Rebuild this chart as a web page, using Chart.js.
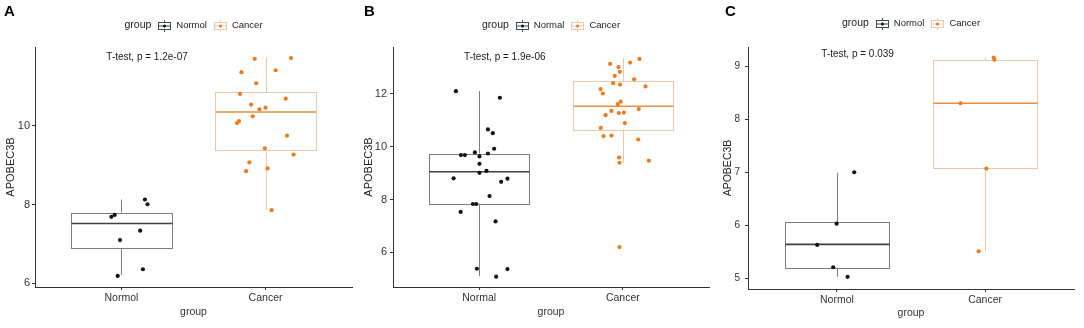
<!DOCTYPE html>
<html>
<head>
<meta charset="utf-8">
<script src="https://cdn.jsdelivr.net/npm/chart.js@4"></script>
<style>
  html, body { margin: 0; padding: 0; background: #fff; }
  #wrap { position: relative; width: 1084px; height: 328px; }
  .panel { position: absolute; top: 0; height: 328px; }
  canvas { display: block; }
</style>
</head>
<body>
<div id="wrap">
  <div class="panel" style="left:0;width:361px"><canvas id="chartA" width="361" height="328"></canvas></div>
  <div class="panel" style="left:361px;width:361px"><canvas id="chartB" width="361" height="328"></canvas></div>
  <div class="panel" style="left:722px;width:362px"><canvas id="chartC" width="362" height="328"></canvas></div>
</div>
<script>
// ---- data ----
const groupsA = ['Normol', 'Cancer'];
const groupsB = ['Normal', 'Cancer'];
const groupsC = ['Normol', 'Cancer'];

// panel A
const normalA = [8.13, 8.01, 7.74, 7.69, 7.34, 7.10, 6.36, 6.19];
const normalJitA = [0.163, 0.181, -0.047, -0.07, 0.13, -0.01, 0.149, -0.026];
const cancerA = [11.70, 11.72, 11.36, 11.41, 11.08, 10.81, 10.69, 10.54, 10.42, 10.46, 10.24, 10.12, 10.07, 9.75, 9.43, 9.27, 9.07, 8.85, 8.92, 7.86];
const cancerJitA = [-0.075, 0.177, -0.167, 0.07, -0.065, -0.177, 0.14, -0.10, -0.042, 0, -0.089, -0.184, -0.198, 0.149, -0.005, 0.195, -0.112, -0.135, 0.014, 0.042];
// [lower whisker, q1, median, q3, upper whisker]
const boxNormalA = [6.21, 6.90, 7.52, 7.80, 8.13];
const boxCancerA = [7.87, 9.38, 10.35, 10.87, 11.73];
const ticksA = [6, 8, 10];
const pLabelA = 'T-test, p = 1.2e-07';

// panel B
const normalB = [12.10, 11.85, 10.65, 10.51, 9.92, 9.78, 9.74, 9.68, 9.68, 9.63, 9.35, 9.08, 9.01, 8.80, 8.79, 8.67, 8.13, 7.83, 7.83, 7.53, 7.17, 5.38, 5.37, 5.08];
const normalJitB = [-0.162, 0.144, 0.061, 0.095, 0.104, -0.03, 0.061, -0.127, -0.099, 0.002, 0.002, 0.051, 0.002, -0.178, 0.197, 0.153, 0.072, -0.044, -0.021, -0.129, 0.114, -0.016, 0.197, 0.118];
const cancerB = [13.32, 13.18, 13.13, 13.01, 12.83, 12.68, 12.55, 12.40, 12.35, 12.28, 12.18, 12.01, 11.70, 11.61, 11.42, 11.35, 11.29, 11.27, 11.19, 10.89, 10.71, 10.40, 10.42, 10.27, 9.59, 9.39, 9.47, 6.20];
const cancerJitB = [0.116, 0.051, -0.088, -0.03, -0.021, -0.056, 0.079, -0.067, -0.019, 0.158, -0.155, -0.139, -0.014, -0.035, 0.111, -0.079, 0.007, -0.028, -0.12, 0.014, -0.153, -0.134, -0.079, 0.107, -0.026, -0.023, 0.181, -0.023];
const boxNormalB = [5.10, 7.84, 9.05, 9.74, 12.10];
const boxCancerB = [9.39, 10.64, 11.53, 12.48, 13.35];
const ticksB = [6, 8, 10, 12];
const pLabelB = 'T-test, p = 1.9e-06';

// panel C
const normalC = [7.00, 6.03, 5.63, 5.21, 5.03];
const normalJitC = [0.117, -0.002, -0.133, -0.025, 0.072];
const cancerC = [9.16, 9.12, 8.30, 7.07, 5.51];
const cancerJitC = [0.058, 0.063, -0.166, 0.009, -0.043];
const boxNormalC = [5.03, 5.20, 5.64, 6.06, 6.99];
const boxCancerC = [5.51, 7.08, 8.30, 9.11, 9.16];
const ticksC = [5, 6, 7, 8, 9];
const pLabelC = 'T-test, p = 0.039';

// ---- styling ----
const FONT = '"Liberation Sans", Arial, sans-serif';
const dark = { point: '#141414', edge: '#7d7d7d', median: '#3f3f3f' };
const orange = { point: '#ee7a1c', edge: '#eac8aa', median: '#e98f45' };
const boxHalf = 0.35;

Chart.defaults.font.family = FONT;

function crisp(v) { return Math.round(v) + 0.5; }

const boxPlugin = {
  id: 'boxes',
  beforeDatasetsDraw(chart, args, opts) {
    const { ctx, scales: { x, y } } = chart;
    opts.stats.forEach((s, i) => {
      const c = i + 1;
      const pal = opts.palettes[i];
      const l = crisp(x.getPixelForValue(c - boxHalf));
      const r = crisp(x.getPixelForValue(c + boxHalf));
      const m = crisp(x.getPixelForValue(c));
      const [lo, q1, med, q3, hi] = s.map(v => y.getPixelForValue(v));
      ctx.save();
      ctx.strokeStyle = pal.edge;
      ctx.lineWidth = 1;
      ctx.beginPath();
      ctx.moveTo(m, hi); ctx.lineTo(m, q3);
      ctx.moveTo(m, q1); ctx.lineTo(m, lo);
      ctx.stroke();
      ctx.strokeRect(l, crisp(q3), r - l, crisp(q1) - crisp(q3));
      ctx.strokeStyle = pal.median;
      ctx.lineWidth = 1.6;
      ctx.beginPath();
      ctx.moveTo(l, med); ctx.lineTo(r, med);
      ctx.stroke();
      ctx.restore();
    });
  },
  afterDraw(chart, args, opts) {
    const { ctx, chartArea } = chart;
    ctx.save();
    // panel letter
    ctx.fillStyle = '#000';
    ctx.font = 'bold 15px ' + FONT;
    ctx.textBaseline = 'top';
    ctx.textAlign = 'left';
    ctx.fillText(opts.letter, opts.letterX, 4);

    // test annotation
    ctx.fillStyle = '#1a1a1a';
    ctx.font = '10px ' + FONT;
    ctx.textBaseline = 'middle';
    ctx.fillText(opts.pLabel, chart.scales.x.getPixelForValue(0.895), chartArea.top + opts.pOffset);

    // legend
    const titleFont = '10.5px ' + FONT, itemFont = '9.5px ' + FONT;
    ctx.font = titleFont;
    const wTitle = ctx.measureText('group').width;
    ctx.font = itemFont;
    const wItems = opts.groups.map(g => ctx.measureText(g).width);
    const icon = 12.5, g1 = 7, g2 = 5.5, g3 = 7;
    const total = wTitle + g1 + icon + g2 + wItems[0] + g3 + icon + g2 + wItems[1];
    let xp = (chartArea.left + chartArea.right) / 2 - total / 2;
    const yc = opts.legendY;
    ctx.fillStyle = '#222';
    ctx.font = titleFont;
    ctx.fillText('group', xp, yc);
    xp += wTitle + g1;
    opts.groups.forEach((g, i) => {
      const pal = opts.palettes[i];
      const bx = Math.round(xp) + 0.5, by = Math.round(yc - 3.5) + 0.5;
      ctx.strokeStyle = i === 0 ? '#3d4a50' : pal.edge;
      ctx.lineWidth = 1;
      ctx.strokeRect(bx, by, 12, 7);
      ctx.beginPath();
      ctx.moveTo(bx + 6, by - 2.5); ctx.lineTo(bx + 6, by);
      ctx.moveTo(bx + 6, by + 7); ctx.lineTo(bx + 6, by + 9.5);
      ctx.moveTo(bx, by + 3.5); ctx.lineTo(bx + 12, by + 3.5);
      ctx.stroke();
      ctx.fillStyle = pal.point;
      ctx.beginPath();
      ctx.arc(bx + 6, by + 3.5, 1.6, 0, Math.PI * 2);
      ctx.fill();
      xp += icon + g2;
      ctx.fillStyle = '#222';
      ctx.font = itemFont;
      ctx.fillText(g, xp, yc);
      xp += wItems[i] + g3;
    });
    ctx.restore();
  }
};

function points(values, jitter, c) {
  return values.map((v, i) => ({ x: c + jitter[i], y: v }));
}

function makePanel(id, p) {
  new Chart(document.getElementById(id), {
    type: 'scatter',
    data: {
      datasets: [
        { label: p.groups[0], data: points(p.normal, p.normalJit, 1), backgroundColor: dark.point, borderWidth: 0, pointRadius: 2.1 },
        { label: p.groups[1], data: points(p.cancer, p.cancerJit, 2), backgroundColor: orange.point, borderWidth: 0, pointRadius: 2.1 }
      ]
    },
    options: {
      responsive: false,
      animation: false,
      devicePixelRatio: 1,
      layout: { padding: { top: p.top, right: p.right, left: 0, bottom: 0 } },
      plugins: {
        legend: { display: false },
        tooltip: { enabled: false },
        boxes: {
          stats: [p.boxNormal, p.boxCancer],
          palettes: [dark, orange],
          groups: p.groups,
          letter: p.letter, letterX: p.letterX,
          pLabel: p.pLabel, pOffset: p.pOffset,
          legendY: p.legendY
        }
      },
      scales: {
        x: {
          type: 'linear', min: 0.4, max: 2.6,
          afterBuildTicks: s => { s.ticks = [{ value: 1 }, { value: 2 }]; },
          afterFit: s => { s.height = p.xHeight; },
          ticks: { callback: (v, i) => p.groups[i], color: '#333', font: { size: 10.5 }, padding: 2, maxRotation: 0 },
          grid: { drawOnChartArea: false, tickLength: 3, color: '#333' },
          border: { color: '#333', width: 1 },
          title: { display: true, text: 'group', color: '#333', font: { size: 10.5 }, padding: { top: 2, bottom: p.xTitlePad } }
        },
        y: {
          type: 'linear', min: p.yMin, max: p.yMax,
          afterBuildTicks: s => { s.ticks = p.ticks.map(v => ({ value: v })); },
          afterFit: s => { s.width = p.left; },
          ticks: { color: '#333', font: { size: p.yTickSize }, padding: p.yTickPad },
          grid: { drawOnChartArea: false, tickLength: 3, color: '#333' },
          border: { color: '#333', width: 1 },
          title: { display: true, text: 'APOBEC3B', color: '#222', font: { size: p.yTitleSize }, padding: { top: p.yTitlePad, bottom: 0 } }
        }
      }
    },
    plugins: [boxPlugin]
  });
}

makePanel('chartA', {
  groups: groupsA, normal: normalA, normalJit: normalJitA, cancer: cancerA, cancerJit: cancerJitA,
  boxNormal: boxNormalA, boxCancer: boxCancerA, ticks: ticksA, yMin: 5.91, yMax: 12.0,
  pLabel: pLabelA, letter: 'A', letterX: 4,
  top: 47, right: 9, left: 35, xHeight: 41, yTitlePad: 4, yTitleSize: 11, yTickSize: 11, yTickPad: 2,
  xTitlePad: 10, pOffset: 10, legendY: 25
});
makePanel('chartB', {
  groups: groupsB, normal: normalB, normalJit: normalJitB, cancer: cancerB, cancerJit: cancerJitB,
  boxNormal: boxNormalB, boxCancer: boxCancerB, ticks: ticksB, yMin: 4.69, yMax: 13.77,
  pLabel: pLabelB, letter: 'B', letterX: 3,
  top: 47, right: 13, left: 32, xHeight: 41, yTitlePad: 1.5, yTitleSize: 11, yTickSize: 11, yTickPad: 3,
  xTitlePad: 10, pOffset: 10, legendY: 25
});
makePanel('chartC', {
  groups: groupsC, normal: normalC, normalJit: normalJitC, cancer: cancerC, cancerJit: cancerJitC,
  boxNormal: boxNormalC, boxCancer: boxCancerC, ticks: ticksC, yMin: 4.80, yMax: 9.36,
  pLabel: pLabelC, letter: 'C', letterX: 3,
  top: 47, right: 10, left: 26, xHeight: 39, yTitlePad: 0, yTitleSize: 10.5, yTickSize: 10, yTickPad: 5,
  xTitlePad: 9, pOffset: 7.5, legendY: 23
});
</script>
</body>
</html>
